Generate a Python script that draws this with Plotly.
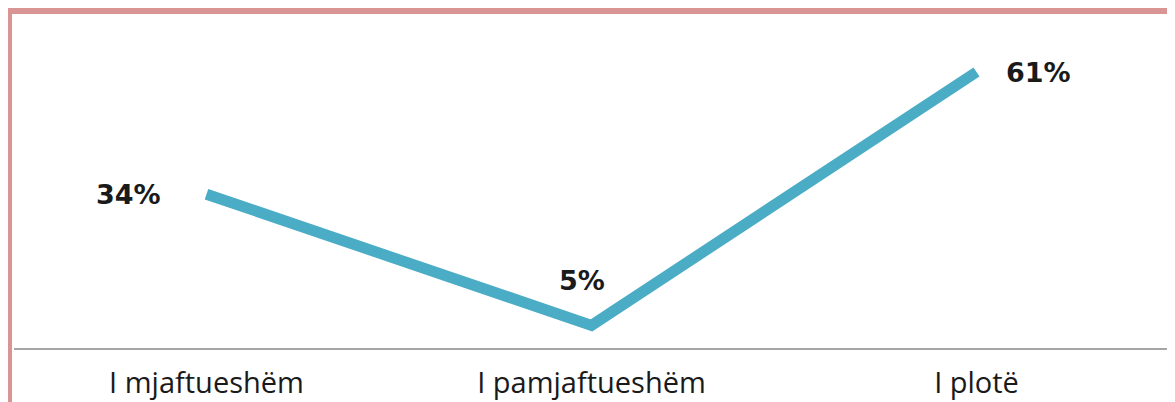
import plotly.graph_objects as go

# data
categories = ["I mjaftueshëm", "I pamjaftueshëm", "I plotë"]
values = [34, 5, 61]
labels = ["34%", "5%", "61%"]

line_color = "#4BACC6"
border_color = "#D99594"

fig = go.Figure(go.Scatter(
    x=categories,
    y=values,
    mode="lines",
    line=dict(color=line_color, width=11),
    hoverinfo="skip",
))

# label placement per point (anchor, shifts)
label_pos = [
    dict(xanchor="right", yanchor="middle", xshift=-44, yshift=0),
    dict(xanchor="center", yanchor="middle", xshift=-10, yshift=45),
    dict(xanchor="left", yanchor="middle", xshift=27, yshift=0),
]
for cat, val, txt, pos in zip(categories, values, labels, label_pos):
    fig.add_annotation(
        x=cat, y=val, text="<b>%s</b>" % txt, showarrow=False,
        font=dict(family="DejaVu Sans", size=27, color="#1a1a1a"),
        **pos
    )

# pink frame on the left and top
fig.add_shape(type="line", xref="paper", yref="paper",
              x0=-0.0043, x1=-0.0043, y0=-0.2, y1=1.036,
              line=dict(color=border_color, width=6))
fig.add_shape(type="line", xref="paper", yref="paper",
              x0=-0.0069, x1=1.02, y0=1.0274, y1=1.0274,
              line=dict(color=border_color, width=6))

# page body keeps its default 8px margin, so the figure is 8px smaller
fig.update_layout(
    width=1167,
    height=394,
    margin=dict(l=6, r=6, t=12, b=54),
    paper_bgcolor="white",
    plot_bgcolor="white",
    showlegend=False,
    xaxis=dict(
        showgrid=False, zeroline=False, automargin=False,
        showline=True, linecolor="#A6A6A6", linewidth=2,
        ticks="", ticklabelstandoff=8,
        tickfont=dict(family="Open Sans", size=29, color="#1a1a1a"),
        range=[-0.5, 2.5], fixedrange=True,
    ),
    yaxis=dict(
        visible=False, range=[0, 72.5], fixedrange=True,
    ),
)

fig.write_html("out.html")
